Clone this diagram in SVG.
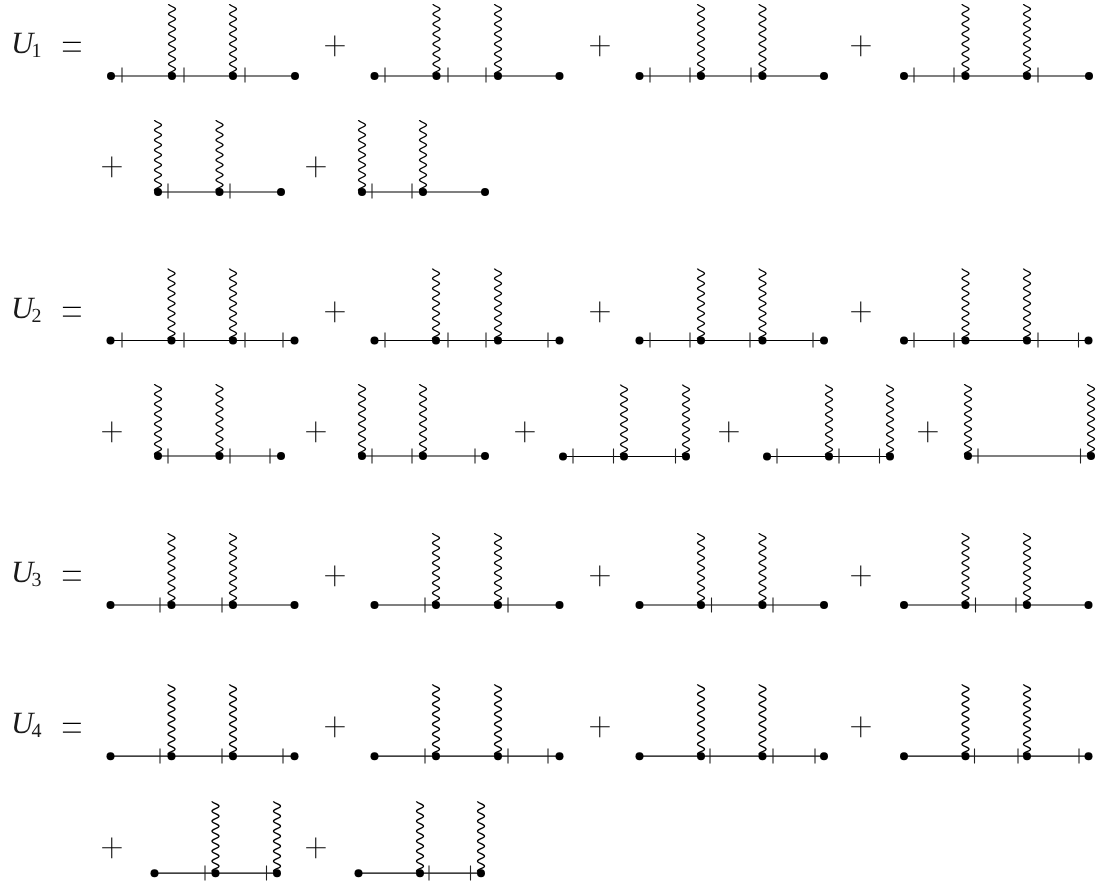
<svg xmlns="http://www.w3.org/2000/svg" width="1102" height="884" viewBox="0 0 1102 884">
<style>
text{fill:#000;text-rendering:geometricPrecision}
.u{font-family:"Liberation Serif",serif;font-style:italic;font-size:31px;fill:#1a1a1a}
.s{font-style:normal;font-size:20px}
.o{font-family:"Roboto","Liberation Sans",sans-serif;font-weight:100;font-size:40px;text-anchor:middle}
.e{font-family:"Roboto","Liberation Sans",sans-serif;font-weight:100;font-size:44px;text-anchor:middle}
.l{stroke:#000;stroke-width:1.2;fill:none}
.t{stroke:#222;stroke-width:1.1;fill:none}
.w{stroke:#000;stroke-width:1.3;fill:none}
</style>
<defs>
<filter id="gray" x="0" y="0" width="1" height="1" filterUnits="objectBoundingBox"><feOffset dx="0" dy="0"/></filter>
<path id="wave" class="w" d="M-3.5-72c0 2 7 3 7 5c0 2-7 3-7 5c0 2 7 3 7 5c0 2-7 3-7 5c0 2 7 3 7 5c0 2-7 3-7 5c0 2 7 3 7 5c0 2-7 3-7 5c0 2 7 3 7 5c0 2-7 3-7 5c0 2 7 3 7 5c0 2-7 3-7 5c0 2 7 3 7 5c0 2-7 3-7 5l3.5 2"/>
<circle id="dot" r="4" fill="#000"/>
<path id="tick" class="t" d="M0-7.5V7.5"/>
</defs>
<g id="labels" filter="url(#gray)">
<text class="u" x="11" y="53">U<tspan class="s" dx="-2" dy="4">1</tspan></text>
<text class="u" x="11" y="317.5">U<tspan class="s" dx="-2" dy="4">2</tspan></text>
<text class="u" x="11" y="582">U<tspan class="s" dx="-2" dy="4">3</tspan></text>
<text class="u" x="11" y="733">U<tspan class="s" dx="-2" dy="4">4</tspan></text>
<text class="e" x="72" y="60.5">=</text>
<text class="e" x="72" y="326">=</text>
<text class="e" x="72" y="590">=</text>
<text class="e" x="72" y="741.5">=</text>
</g>
<g id="plus-signs" filter="url(#gray)">
<text class="o" x="335" y="59">+</text><text class="o" x="600" y="59">+</text><text class="o" x="861" y="59">+</text>
<text class="o" x="112" y="180">+</text><text class="o" x="316" y="180">+</text>
<text class="o" x="335" y="324.5">+</text><text class="o" x="600" y="324.5">+</text><text class="o" x="861" y="324.5">+</text>
<text class="o" x="112" y="445">+</text><text class="o" x="316" y="445">+</text><text class="o" x="525" y="445">+</text><text class="o" x="729" y="445">+</text><text class="o" x="928" y="445">+</text>
<text class="o" x="335" y="588.5">+</text><text class="o" x="600" y="588.5">+</text><text class="o" x="861" y="588.5">+</text>
<text class="o" x="335" y="740">+</text><text class="o" x="600" y="740">+</text><text class="o" x="861" y="740">+</text>
<text class="o" x="112" y="861">+</text><text class="o" x="316" y="861">+</text>
</g>
<g id="u1-1"><path class="l" d="M111 76H295"/><use href="#wave" x="172" y="76"/><use href="#wave" x="233" y="76"/><use href="#dot" x="111" y="76"/><use href="#dot" x="172" y="76"/><use href="#dot" x="233" y="76"/><use href="#dot" x="295" y="76"/><use href="#tick" x="122" y="75"/><use href="#tick" x="184" y="75"/><use href="#tick" x="245" y="75"/></g>
<g id="u1-2"><path class="l" d="M374.5 76H559.5"/><use href="#wave" x="436.5" y="76"/><use href="#wave" x="498" y="76"/><use href="#dot" x="374.5" y="76"/><use href="#dot" x="436.5" y="76"/><use href="#dot" x="498" y="76"/><use href="#dot" x="559.5" y="76"/><use href="#tick" x="385" y="75"/><use href="#tick" x="448" y="75"/><use href="#tick" x="486" y="75"/></g>
<g id="u1-3"><path class="l" d="M639.5 76H824"/><use href="#wave" x="701" y="76"/><use href="#wave" x="762.5" y="76"/><use href="#dot" x="639.5" y="76"/><use href="#dot" x="701" y="76"/><use href="#dot" x="762.5" y="76"/><use href="#dot" x="824" y="76"/><use href="#tick" x="650" y="75"/><use href="#tick" x="690" y="75"/><use href="#tick" x="751" y="75"/></g>
<g id="u1-4"><path class="l" d="M904 76H1089"/><use href="#wave" x="965.5" y="76"/><use href="#wave" x="1027" y="76"/><use href="#dot" x="904" y="76"/><use href="#dot" x="965.5" y="76"/><use href="#dot" x="1027" y="76"/><use href="#dot" x="1089" y="76"/><use href="#tick" x="914" y="75"/><use href="#tick" x="954" y="75"/><use href="#tick" x="1038" y="75"/></g>
<g id="u1-5"><path class="l" d="M158 192H281"/><use href="#wave" x="158" y="192"/><use href="#wave" x="219.5" y="192"/><use href="#dot" x="158" y="192"/><use href="#dot" x="219.5" y="192"/><use href="#dot" x="281" y="192"/><use href="#tick" x="168" y="191"/><use href="#tick" x="230" y="191"/></g>
<g id="u1-6"><path class="l" d="M362 192H485"/><use href="#wave" x="362" y="192"/><use href="#wave" x="423" y="192"/><use href="#dot" x="362" y="192"/><use href="#dot" x="423" y="192"/><use href="#dot" x="485" y="192"/><use href="#tick" x="372" y="191"/><use href="#tick" x="412" y="191"/></g>
<g id="u2-1"><path class="l" d="M110 340.5H295"/><use href="#wave" x="171.5" y="340.5"/><use href="#wave" x="233" y="340.5"/><use href="#dot" x="110.5" y="340.5"/><use href="#dot" x="171.5" y="340.5"/><use href="#dot" x="233" y="340.5"/><use href="#dot" x="294.5" y="340.5"/><use href="#tick" x="122" y="340"/><use href="#tick" x="184" y="340"/><use href="#tick" x="245" y="340"/><use href="#tick" x="283" y="340"/></g>
<g id="u2-2"><path class="l" d="M374.5 340.5H559.5"/><use href="#wave" x="436" y="340.5"/><use href="#wave" x="498" y="340.5"/><use href="#dot" x="374.5" y="340.5"/><use href="#dot" x="436" y="340.5"/><use href="#dot" x="498" y="340.5"/><use href="#dot" x="559.5" y="340.5"/><use href="#tick" x="385" y="340"/><use href="#tick" x="448" y="340"/><use href="#tick" x="486" y="340"/><use href="#tick" x="548" y="340"/></g>
<g id="u2-3"><path class="l" d="M639.5 340.5H824"/><use href="#wave" x="701" y="340.5"/><use href="#wave" x="762.5" y="340.5"/><use href="#dot" x="639.5" y="340.5"/><use href="#dot" x="701" y="340.5"/><use href="#dot" x="762.5" y="340.5"/><use href="#dot" x="824" y="340.5"/><use href="#tick" x="650" y="340"/><use href="#tick" x="690" y="340"/><use href="#tick" x="750" y="340"/><use href="#tick" x="813" y="340"/></g>
<g id="u2-4"><path class="l" d="M904 340.5H1089"/><use href="#wave" x="965.5" y="340.5"/><use href="#wave" x="1027" y="340.5"/><use href="#dot" x="904" y="340.5"/><use href="#dot" x="965.5" y="340.5"/><use href="#dot" x="1027" y="340.5"/><use href="#dot" x="1088.5" y="340.5"/><use href="#tick" x="914" y="340"/><use href="#tick" x="954" y="340"/><use href="#tick" x="1038" y="340"/><use href="#tick" x="1078.5" y="340"/></g>
<g id="u2-5"><path class="l" d="M158 456H281"/><use href="#wave" x="158" y="456"/><use href="#wave" x="219.5" y="456"/><use href="#dot" x="158" y="456"/><use href="#dot" x="219.5" y="456"/><use href="#dot" x="281" y="456"/><use href="#tick" x="168" y="456"/><use href="#tick" x="230" y="456"/><use href="#tick" x="270" y="456"/></g>
<g id="u2-6"><path class="l" d="M362 456H485"/><use href="#wave" x="362" y="456"/><use href="#wave" x="423" y="456"/><use href="#dot" x="362" y="456"/><use href="#dot" x="423" y="456"/><use href="#dot" x="485" y="456"/><use href="#tick" x="372" y="456"/><use href="#tick" x="412" y="456"/><use href="#tick" x="475" y="456"/></g>
<g id="u2-7"><path class="l" d="M563 456.5H686"/><use href="#wave" x="624" y="456.5"/><use href="#wave" x="686" y="456.5"/><use href="#dot" x="563" y="456.5"/><use href="#dot" x="624" y="456.5"/><use href="#dot" x="686" y="456.5"/><use href="#tick" x="573" y="456"/><use href="#tick" x="613.5" y="456"/><use href="#tick" x="675.5" y="456"/></g>
<g id="u2-8"><path class="l" d="M767 456.5H890"/><use href="#wave" x="829" y="456.5"/><use href="#wave" x="890" y="456.5"/><use href="#dot" x="767" y="456.5"/><use href="#dot" x="829" y="456.5"/><use href="#dot" x="890" y="456.5"/><use href="#tick" x="777" y="456"/><use href="#tick" x="839" y="456"/><use href="#tick" x="879.5" y="456"/></g>
<g id="u2-9"><path class="l" d="M968 456H1091"/><use href="#wave" x="968" y="456"/><use href="#wave" x="1091" y="456"/><use href="#dot" x="968" y="456"/><use href="#dot" x="1091" y="456"/><use href="#tick" x="978" y="456"/><use href="#tick" x="1080.5" y="456"/></g>
<g id="u3-1"><path class="l" d="M110 605H295"/><use href="#wave" x="171.5" y="605"/><use href="#wave" x="233" y="605"/><use href="#dot" x="110.5" y="605"/><use href="#dot" x="171.5" y="605"/><use href="#dot" x="233" y="605"/><use href="#dot" x="294.5" y="605"/><use href="#tick" x="160" y="605"/><use href="#tick" x="222" y="605"/></g>
<g id="u3-2"><path class="l" d="M374.5 605H559.5"/><use href="#wave" x="436" y="605"/><use href="#wave" x="498" y="605"/><use href="#dot" x="374.5" y="605"/><use href="#dot" x="436" y="605"/><use href="#dot" x="498" y="605"/><use href="#dot" x="559.5" y="605"/><use href="#tick" x="425" y="605"/><use href="#tick" x="508" y="605"/></g>
<g id="u3-3"><path class="l" d="M639.5 605H824"/><use href="#wave" x="701" y="605"/><use href="#wave" x="762.5" y="605"/><use href="#dot" x="639.5" y="605"/><use href="#dot" x="701" y="605"/><use href="#dot" x="762.5" y="605"/><use href="#dot" x="824" y="605"/><use href="#tick" x="711.5" y="605"/><use href="#tick" x="773" y="605"/></g>
<g id="u3-4"><path class="l" d="M904 605H1089"/><use href="#wave" x="965.5" y="605"/><use href="#wave" x="1027" y="605"/><use href="#dot" x="904" y="605"/><use href="#dot" x="965.5" y="605"/><use href="#dot" x="1027" y="605"/><use href="#dot" x="1088.5" y="605"/><use href="#tick" x="975.5" y="605"/><use href="#tick" x="1016" y="605"/></g>
<g id="u4-1"><path class="l" d="M110 756.2H295"/><use href="#wave" x="171.5" y="756.2"/><use href="#wave" x="233" y="756.2"/><use href="#dot" x="110.5" y="756.2"/><use href="#dot" x="171.5" y="756.2"/><use href="#dot" x="233" y="756.2"/><use href="#dot" x="294.5" y="756.2"/><use href="#tick" x="160" y="756"/><use href="#tick" x="222" y="756"/><use href="#tick" x="283" y="756"/></g>
<g id="u4-2"><path class="l" d="M374.5 756.2H559.5"/><use href="#wave" x="436" y="756.2"/><use href="#wave" x="498" y="756.2"/><use href="#dot" x="374.5" y="756.2"/><use href="#dot" x="436" y="756.2"/><use href="#dot" x="498" y="756.2"/><use href="#dot" x="559.5" y="756.2"/><use href="#tick" x="425" y="756"/><use href="#tick" x="508" y="756"/><use href="#tick" x="548" y="756"/></g>
<g id="u4-3"><path class="l" d="M639.5 756.2H824"/><use href="#wave" x="701" y="756.2"/><use href="#wave" x="762.5" y="756.2"/><use href="#dot" x="639.5" y="756.2"/><use href="#dot" x="701" y="756.2"/><use href="#dot" x="762.5" y="756.2"/><use href="#dot" x="824" y="756.2"/><use href="#tick" x="710" y="756"/><use href="#tick" x="773" y="756"/><use href="#tick" x="815" y="756"/></g>
<g id="u4-4"><path class="l" d="M904 756.2H1089"/><use href="#wave" x="965.5" y="756.2"/><use href="#wave" x="1027" y="756.2"/><use href="#dot" x="904" y="756.2"/><use href="#dot" x="965.5" y="756.2"/><use href="#dot" x="1027" y="756.2"/><use href="#dot" x="1088.5" y="756.2"/><use href="#tick" x="974.5" y="756"/><use href="#tick" x="1018" y="756"/><use href="#tick" x="1079" y="756"/></g>
<g id="u4-5"><path class="l" d="M154 873.2H277"/><use href="#wave" x="215.5" y="873.2"/><use href="#wave" x="277" y="873.2"/><use href="#dot" x="154.5" y="873.2"/><use href="#dot" x="215.5" y="873.2"/><use href="#dot" x="277" y="873.2"/><use href="#tick" x="205" y="873"/><use href="#tick" x="266.5" y="873"/></g>
<g id="u4-6"><path class="l" d="M358.5 873.2H481"/><use href="#wave" x="420" y="873.2"/><use href="#wave" x="481" y="873.2"/><use href="#dot" x="358.5" y="873.2"/><use href="#dot" x="420" y="873.2"/><use href="#dot" x="481" y="873.2"/><use href="#tick" x="429" y="873"/><use href="#tick" x="470.5" y="873"/></g>
</svg>
